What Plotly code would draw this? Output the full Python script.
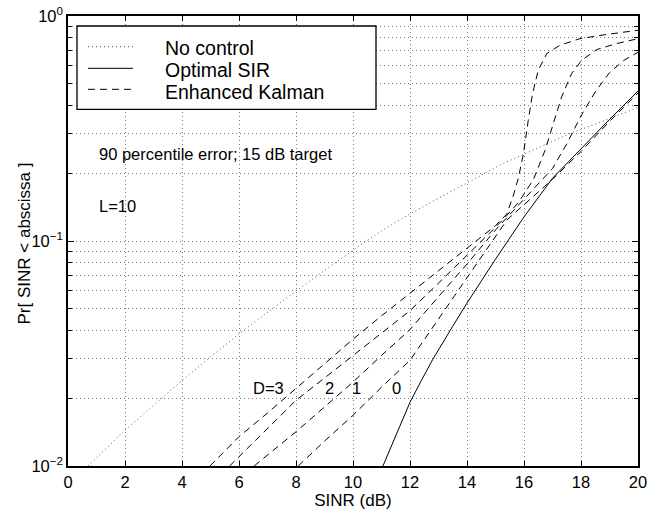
import plotly.graph_objects as go

# ---------------- data ----------------
nocontrol_x = [0.7, 2, 4, 6, 8, 10, 11, 12, 13, 14, 15.3, 16, 17.6, 18, 19, 20]
nocontrol_y = [0.01, 0.0144, 0.024, 0.0387, 0.06, 0.091, 0.111, 0.132, 0.155, 0.181,
               0.222, 0.243, 0.300, 0.313, 0.351, 0.392]

optimal_x = [11.05, 11.5, 12, 12.4, 12.8, 13.5, 14, 15, 16, 17, 18, 19, 20]
optimal_y = [0.01, 0.0137, 0.0192, 0.024, 0.0298, 0.0418, 0.053, 0.083, 0.128,
             0.19, 0.258, 0.347, 0.464]

kalman_d0_x = [8.08, 9, 10, 11, 12, 13, 14, 15, 15.4, 16, 17, 18, 19, 20]
kalman_d0_y = [0.01, 0.0129, 0.0168, 0.0224, 0.0295, 0.045, 0.0686, 0.105, 0.124,
               0.145, 0.188, 0.25, 0.34, 0.455]

kalman_d1_x = [6.53, 8, 9, 10, 11, 12, 13, 14, 15, 15.4, 16, 16.5, 17, 17.5, 18,
               18.5, 19, 19.5, 20]
kalman_d1_y = [0.01, 0.0142, 0.0183, 0.0236, 0.031, 0.0404, 0.0566, 0.079, 0.112,
               0.127, 0.152, 0.178, 0.21, 0.27, 0.36, 0.46, 0.56, 0.635, 0.69]

kalman_d2_x = [5.67, 6, 7, 8, 9, 10, 11, 12, 13, 14, 15, 15.4, 15.8, 16.33, 16.74,
               17.03, 17.32, 17.67, 18.02, 18.55, 19.25, 20]
kalman_d2_y = [0.01, 0.011, 0.0147, 0.0196, 0.0246, 0.031, 0.039, 0.049, 0.065,
               0.0863, 0.115, 0.13, 0.148, 0.1875, 0.253, 0.333, 0.437, 0.555,
               0.635, 0.709, 0.754, 0.793]

kalman_d3_x = [4.98, 6, 7, 8, 9, 10, 11, 12, 13, 14, 15, 15.4, 15.63, 15.8, 15.98,
               16.15, 16.3, 16.5, 16.8, 17.26, 17.96, 18.9, 20]
kalman_d3_y = [0.01, 0.0135, 0.0172, 0.0221, 0.0285, 0.0366, 0.0465, 0.0587, 0.0738,
               0.093, 0.117, 0.132, 0.16, 0.19, 0.244, 0.344, 0.452, 0.574, 0.681,
               0.741, 0.793, 0.828, 0.864]

x_ticks = [0, 2, 4, 6, 8, 10, 12, 14, 16, 18, 20]
y_major = [0.01, 0.1, 1]
y_major_text = ["10<sup>\u22122</sup>", "10<sup>\u22121</sup>", "10<sup>0</sup>"]
y_minor = [m * d for d in (0.01, 0.1) for m in range(2, 10)]

legend_labels = ["No control", "Optimal SIR", "Enhanced Kalman"]
delay_labels = ["D=3", "2", "1", "0"]
x_title = "SINR (dB)"
y_title = "Pr[ SINR < abscissa ]"

# ---------------- geometry helpers (pixel -> paper) ----------------
L, R, T, B = 68, 20, 16, 46
W, H = 658, 512
PW, PH = W - L - R, H - T - B


def px(xp):
    return (xp - L) / PW


def py(yp):
    return (H - B - yp) / PH


FONT = "Liberation Sans, Arial, Helvetica, sans-serif"
DASH = "7px,5px"
DOT = "1px,3px"
GRIDDOT = "1px,3px"
GRIDCOL = "#7a7a7a"

fig = go.Figure()
fig.add_trace(go.Scatter(x=nocontrol_x, y=nocontrol_y, mode="lines", name="No control",
                         line=dict(color="#555", width=1, dash=DOT), showlegend=False))
fig.add_trace(go.Scatter(x=optimal_x, y=optimal_y, mode="lines", name="Optimal SIR",
                         line=dict(color="black", width=1), showlegend=False))
for nm, xs, ys in [("D=0", kalman_d0_x, kalman_d0_y), ("D=1", kalman_d1_x, kalman_d1_y),
                   ("D=2", kalman_d2_x, kalman_d2_y), ("D=3", kalman_d3_x, kalman_d3_y)]:
    fig.add_trace(go.Scatter(x=xs, y=ys, mode="lines", name="Enhanced Kalman " + nm,
                             line=dict(color="black", width=1, dash=DASH), showlegend=False))

grid = dict(showgrid=True, gridcolor=GRIDCOL, gridwidth=1, griddash=GRIDDOT)

fig.update_xaxes(range=[0, 20], tickvals=x_ticks, ticks="inside", ticklen=5,
                 tickcolor="black", showline=True, linecolor="black", linewidth=1.5,
                 mirror="allticks", zeroline=False, automargin=False,
                 tickfont=dict(family=FONT, size=16.5, color="black"),
                 title=dict(text=x_title, font=dict(family=FONT, size=17, color="black"),
                            standoff=2),
                 **grid)
fig.update_yaxes(type="log", range=[-2, 0], tickvals=y_major, ticktext=y_major_text,
                 ticks="inside", ticklen=6, tickcolor="black", showline=True,
                 linecolor="black", linewidth=1.5, mirror="allticks", zeroline=False,
                 automargin=False,
                 tickfont=dict(family=FONT, size=16.5, color="black"),
                 minor=dict(tickvals=y_minor, ticks="inside", ticklen=4, tickcolor="black",
                            showgrid=True, gridcolor=GRIDCOL, gridwidth=1, griddash=GRIDDOT),
                 **grid)

shapes = [
    dict(type="rect", xref="paper", yref="paper", x0=px(77), x1=px(376), y0=py(109.3),
         y1=py(26), line=dict(color="black", width=1.3), fillcolor="white", layer="above"),
    dict(type="line", xref="paper", yref="paper", x0=px(88), x1=px(133), y0=py(46.7),
         y1=py(46.7), line=dict(color="#555", width=1, dash=DOT), layer="above"),
    dict(type="line", xref="paper", yref="paper", x0=px(88), x1=px(133), y0=py(68.3),
         y1=py(68.3), line=dict(color="black", width=1), layer="above"),
    dict(type="line", xref="paper", yref="paper", x0=px(88), x1=px(133), y0=py(89.3),
         y1=py(89.3), line=dict(color="black", width=1, dash=DASH), layer="above"),
]

annotations = []
for lbl, yc in zip(legend_labels, [48.5, 70, 91.5]):
    annotations.append(dict(xref="paper", yref="paper", x=px(163), y=py(yc), text=lbl,
                            showarrow=False, xanchor="left", yanchor="middle",
                            font=dict(family=FONT, size=19.5, color="black")))
annotations.append(dict(xref="paper", yref="paper", x=px(96.7), y=py(153.5),
                        text="90 percentile error; 15 dB target", showarrow=False,
                        xanchor="left", yanchor="middle",
                        font=dict(family=FONT, size=16.5, color="black")))
annotations.append(dict(xref="paper", yref="paper", x=px(96.7), y=py(206),
                        text="L=10", showarrow=False, xanchor="left", yanchor="middle",
                        font=dict(family=FONT, size=16.5, color="black")))
for lbl, xc in zip(delay_labels, [268, 329, 356, 396.7]):
    annotations.append(dict(xref="paper", yref="paper", x=px(xc), y=py(387.5), text=lbl,
                            showarrow=False, xanchor="center", yanchor="middle",
                            font=dict(family=FONT, size=16.5, color="black")))
annotations.append(dict(xref="paper", yref="paper", x=px(23.5), y=py(243), text=y_title,
                        textangle=-90, showarrow=False, xanchor="center", yanchor="middle",
                        font=dict(family=FONT, size=17, color="black")))

fig.update_layout(width=W, height=H, margin=dict(l=L, r=R, t=T, b=B, autoexpand=False),
                  paper_bgcolor="white", plot_bgcolor="white",
                  shapes=shapes, annotations=annotations, showlegend=False,
                  font=dict(family=FONT, color="black"))

fig.write_html("out.html", config={"displayModeBar": False},
               post_script="document.body.style.margin='0';document.body.style.padding='0';")
